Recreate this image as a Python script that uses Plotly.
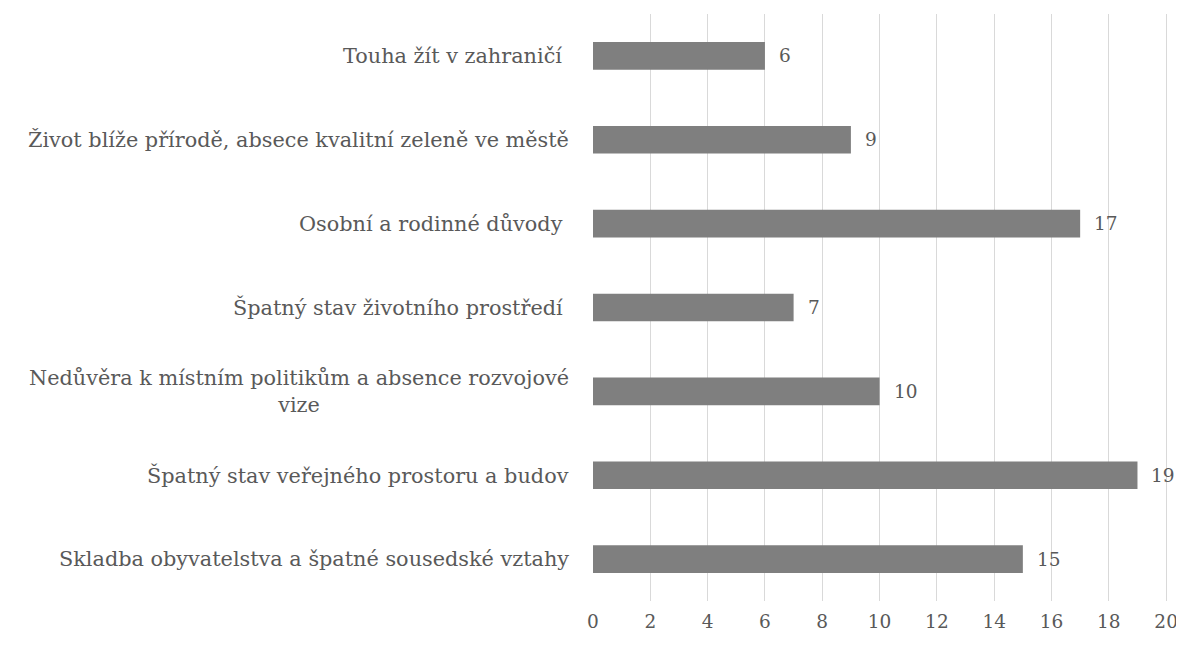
import plotly.graph_objects as go

categories = [
    "Touha žít v zahraničí ",
    "Život blíže přírodě, absece kvalitní zeleně ve městě",
    "Osobní a rodinné důvody ",
    "Špatný stav životního prostředí ",
    "Nedůvěra k místním politikům a absence rozvojové<br>vize",
    "Špatný stav veřejného prostoru a budov",
    "Skladba obyvatelstva a špatné sousedské vztahy",
]
values = [6, 9, 17, 7, 10, 19, 15]
tick_vals = list(range(0, 21, 2))
tick_text = [str(v) for v in tick_vals]

FONT = "DejaVu Serif, Palatino Linotype, serif"
TXT = "#595959"
FS = 20.8
FS_NUM = 18.5

fig = go.Figure()
fig.add_trace(go.Bar(
    x=values, y=categories, orientation="h",
    marker=dict(color="#7f7f7f", line=dict(width=0)),
    hoverinfo="x+y",
))

ann = []
for c, v in zip(categories, values):
    ann.append(dict(x=0, y=c, xref="x", yref="y", text=c, showarrow=False,
                    xanchor="right", yanchor="middle", align="center", xshift=-22,
                    font=dict(family=FONT, size=FS, color=TXT)))
    ann.append(dict(x=v, y=c, xref="x", yref="y", text=str(v), showarrow=False,
                    xanchor="left", yanchor="middle", xshift=12,
                    font=dict(family=FONT, size=FS_NUM, color=TXT)))

fig.update_layout(
    width=1176, height=638,
    margin=dict(l=585, r=12, t=6, b=45),
    paper_bgcolor="white", plot_bgcolor="white",
    bargap=0.67,
    showlegend=False,
    annotations=ann,
    xaxis=dict(range=[0, 20.1], tickvals=tick_vals, ticktext=tick_text,
               showgrid=True, gridcolor="#d9d9d9", gridwidth=1, zeroline=False,
               showline=False, ticks="", ticklabelstandoff=7,
               tickfont=dict(family=FONT, size=FS_NUM, color=TXT), fixedrange=True),
    yaxis=dict(categoryorder="array", categoryarray=categories, autorange="reversed",
               showticklabels=False, showgrid=False, zeroline=False, ticks="",
               fixedrange=True),
)

fig.write_html("out.html")
